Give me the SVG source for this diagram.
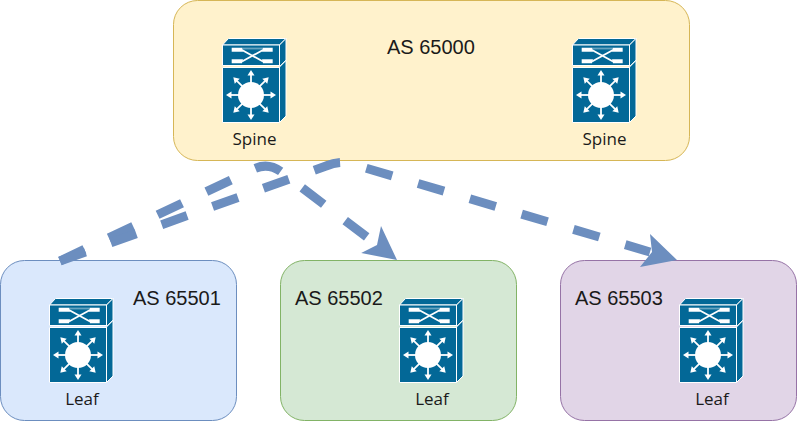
<svg xmlns="http://www.w3.org/2000/svg" width="798" height="421" viewBox="0 0 798 421">
<style>
text{font-family:"Liberation Sans",Arial,sans-serif;fill:#1a1a1a}
.as{font-size:20px}
.lb{font-size:17px;font-family:"Open Sans","Liberation Sans",sans-serif;text-anchor:middle}
.box{stroke-width:1}
.dash{fill:none;stroke:#6c8ebf;stroke-width:9;stroke-dasharray:27 27}
.head{fill:#6c8ebf}
.sw{fill:#036897;stroke:#fff;stroke-width:1}
.wl{stroke:#fff;stroke-width:1.800;fill:none}
.wf{fill:#fff}
</style>
<defs>
<g id="ar"><path class="wl" d="M0-11V-20"/><path class="wf" d="M0-25L-3.500-19.500H3.500Z"/></g>
<g id="l3">
<path class="sw" d="M.5 7L6.500 .5H64L57.500 7Z"/>
<path class="sw" d="M.5 7H57.500V27.500H.5Z"/>
<path class="sw" d="M.5 29.500H57.500V84.500H.5Z"/>
<path class="sw" d="M57.500 7L64 .5V22L57.500 28.500Z"/>
<path class="sw" d="M57.500 29L64 22.500V78L57.500 84.500Z"/>
<g class="wf"><path d="M9.700 9.800H20L21 13.800H9.700Z"/><path d="M50.700 9.800H41L40 13.800H50.700Z"/><path d="M9.700 21.300H21L20 25.300H9.700Z"/><path d="M50.700 21.300H40L41 25.300H50.700Z"/></g>
<path class="wl" d="M20 12L41 23.500M20 23.500L41 12"/>
<path class="wl" d="M20 10.500H41" opacity=".4"/>
<circle class="wf" cx="29" cy="57" r="13"/>
<g transform="translate(29 57)"><use href="#ar"/><use href="#ar" transform="rotate(45)"/><use href="#ar" transform="rotate(90)"/><use href="#ar" transform="rotate(135)"/><use href="#ar" transform="rotate(180)"/><use href="#ar" transform="rotate(225)"/><use href="#ar" transform="rotate(270)"/><use href="#ar" transform="rotate(315)"/></g>
</g>
</defs>
<rect width="798" height="421" fill="#fff"/>
<g id="as65000"><rect class="box" x="173.500" y=".5" width="516" height="160" rx="24" fill="#fff2cc" stroke="#d6b656"/><text class="as" x="387" y="54">AS 65000</text></g>
<g id="as65501"><rect class="box" x=".5" y="260.500" width="236" height="160" rx="24" fill="#dae8fc" stroke="#6c8ebf"/><text class="as" x="133" y="305">AS 65501</text></g>
<g id="as65502"><rect class="box" x="280.500" y="260.500" width="236" height="160" rx="24" fill="#d5e8d4" stroke="#82b366"/><text class="as" x="295" y="305">AS 65502</text></g>
<g id="as65503"><rect class="box" x="560.500" y="260.500" width="236" height="160" rx="24" fill="#e1d5e7" stroke="#9673a6"/><text class="as" x="575" y="305">AS 65503</text></g>
<g id="spine1"><use href="#l3" x="222" y="38"/><text class="lb" x="254.500" y="145">Spine</text></g>
<g id="spine2"><use href="#l3" x="572" y="38"/><text class="lb" x="604.500" y="145">Spine</text></g>
<g id="leaf1"><use href="#l3" x="49" y="298"/><text class="lb" x="82" y="405">Leaf</text></g>
<g id="leaf2"><use href="#l3" x="399" y="298"/><text class="lb" x="432" y="405">Leaf</text></g>
<g id="leaf3"><use href="#l3" x="679" y="298"/><text class="lb" x="712" y="405">Leaf</text></g>
<g id="connectors">
<path class="dash" d="M60 261L250 171Q268 160 284 174L372 241"/>
<path class="dash" d="M60 261L326 166Q340 160 352 164L650 252"/>
<path class="head" d="M397 260L361.200 253L377 245L381 226Z"/>
<path class="head" d="M677 260L640 267L652 252L650 234Z"/>
</g>
</svg>
